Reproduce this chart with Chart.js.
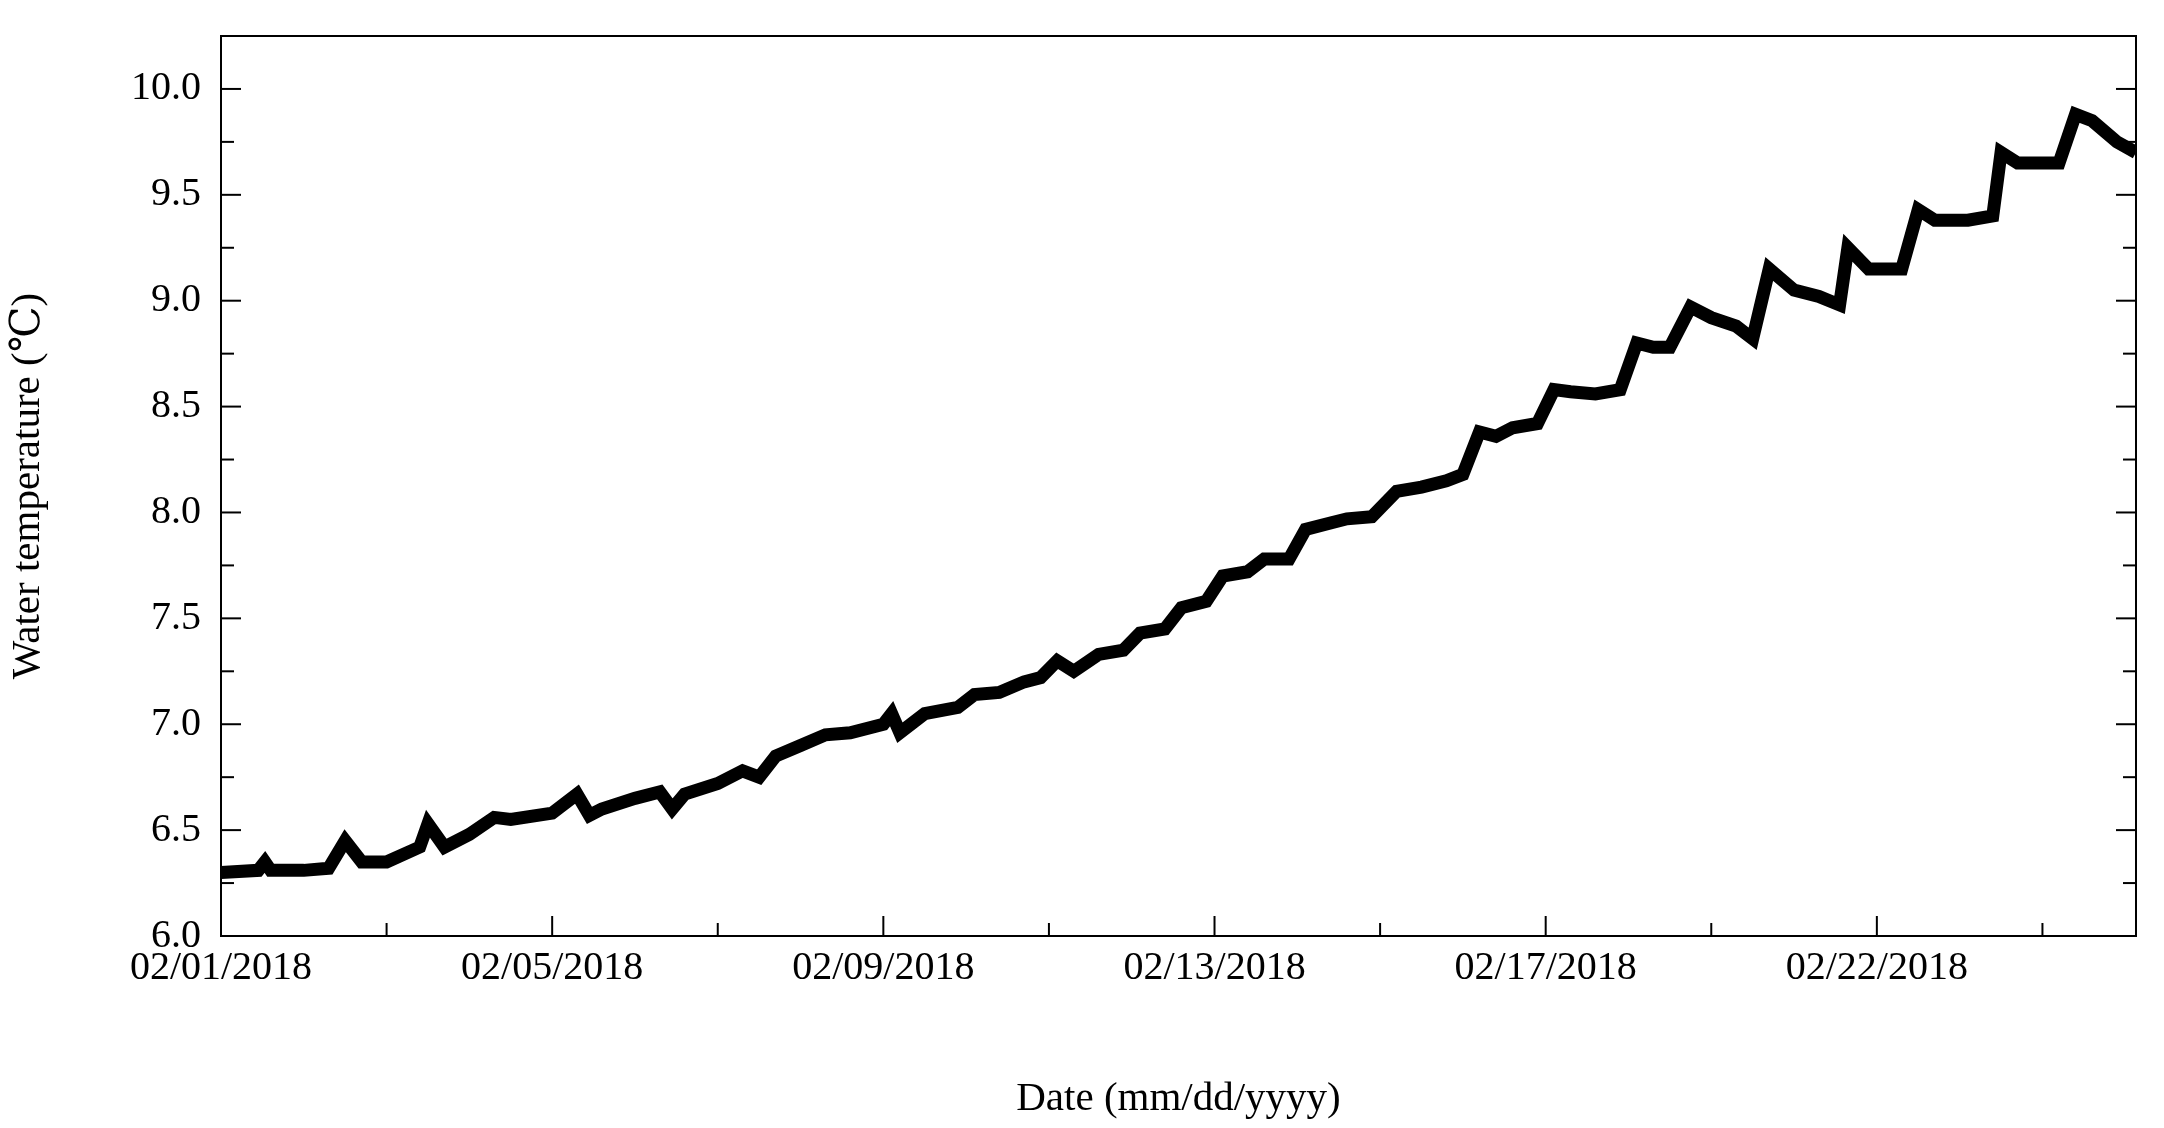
<!DOCTYPE html>
<html>
<head>
<meta charset="utf-8">
<script src="https://cdn.jsdelivr.net/npm/chart.js@4.4.0/dist/chart.umd.min.js"></script>
<style>
  html, body { margin: 0; padding: 0; background: #fff; }
  #wrap { width: 2164px; height: 1128px; }
</style>
</head>
<body>
<div id="wrap"><canvas id="tempChart"></canvas></div>
<script>
// days since 02/01/2018 and water temperature
const days = [0, 0.45, 0.53, 0.6, 1.0, 1.3, 1.5, 1.7, 2.0, 2.4, 2.5, 2.7, 3.0, 3.3, 3.5, 4.0, 4.3, 4.45, 4.6, 5.0,
  5.3, 5.45, 5.6, 6.0, 6.3, 6.5, 6.7, 7.0, 7.3, 7.6, 8.0, 8.1, 8.2, 8.5, 8.9, 9.1, 9.4, 9.7, 9.9, 10.1,
  10.3, 10.6, 10.9, 11.1, 11.4, 11.6, 11.9, 12.1, 12.4, 12.6, 12.9, 13.1, 13.4, 13.6, 13.9, 14.2, 14.5, 14.8, 15.0, 15.2,
  15.4, 15.6, 15.9, 16.1, 16.3, 16.6, 16.9, 17.1, 17.3, 17.5, 17.75, 18.0, 18.3, 18.5, 18.7, 19.0, 19.3, 19.55, 19.65, 19.9,
  20.3, 20.5, 20.7, 21.1, 21.4, 21.5, 21.7, 22.2, 22.4, 22.6, 22.9, 23.13];
const temps = [6.30, 6.31, 6.35, 6.31, 6.31, 6.32, 6.45, 6.35, 6.35, 6.42, 6.53, 6.42, 6.48, 6.56, 6.55, 6.58, 6.67, 6.57, 6.60, 6.65,
  6.68, 6.60, 6.67, 6.72, 6.78, 6.75, 6.85, 6.90, 6.95, 6.96, 7.00, 7.05, 6.96, 7.05, 7.08, 7.14, 7.15, 7.20, 7.22, 7.30,
  7.25, 7.33, 7.35, 7.43, 7.45, 7.55, 7.58, 7.70, 7.72, 7.78, 7.78, 7.92, 7.95, 7.97, 7.98, 8.10, 8.12, 8.15, 8.18, 8.38,
  8.36, 8.40, 8.42, 8.58, 8.57, 8.56, 8.58, 8.80, 8.78, 8.78, 8.97, 8.92, 8.88, 8.82, 9.15, 9.05, 9.02, 8.98, 9.25, 9.15,
  9.15, 9.43, 9.38, 9.38, 9.40, 9.70, 9.65, 9.65, 9.88, 9.85, 9.75, 9.70];
const xTickDays = [0, 4, 8, 12, 16, 20];
const xTickLabels = ["02/01/2018", "02/05/2018", "02/09/2018", "02/13/2018", "02/17/2018", "02/22/2018"];

const font = "'Liberation Serif', 'DejaVu Serif', serif";

// inward ticks and a full box around the plot
const frame = {
  id: "frame",
  afterDraw(chart) {
    const c = chart.ctx, a = chart.chartArea;
    c.save();
    c.strokeStyle = "#000";
    c.lineWidth = 2;
    chart.scales.x.ticks.forEach(t => {
      const px = chart.scales.x.getPixelForValue(t.value);
      const len = t.value % 4 === 0 ? 20 : 13;
      c.beginPath(); c.moveTo(px, a.bottom); c.lineTo(px, a.bottom - len); c.stroke();
    });
    chart.scales.y.ticks.forEach(t => {
      const py = chart.scales.y.getPixelForValue(t.value);
      const len = Math.abs(t.value * 2 - Math.round(t.value * 2)) < 1e-6 ? 20 : 13;
      c.beginPath(); c.moveTo(a.left, py); c.lineTo(a.left + len, py); c.stroke();
      c.beginPath(); c.moveTo(a.right, py); c.lineTo(a.right - len, py); c.stroke();
    });
    c.strokeRect(a.left, a.top, a.right - a.left, a.bottom - a.top);
    c.restore();
  }
};

new Chart(document.getElementById("tempChart"), {
  type: "line",
  data: {
    datasets: [{
      data: days.map((d, i) => ({ x: d, y: temps[i] })),
      borderColor: "#000",
      borderWidth: 13,
      pointRadius: 0,
      tension: 0,
      borderJoinStyle: "miter",
    }],
  },
  options: {
    animation: false,
    responsive: true,
    maintainAspectRatio: false,
    layout: { padding: { top: 33, right: 28, left: 0, bottom: 0 } },
    plugins: { legend: { display: false }, tooltip: { enabled: false } },
    scales: {
      x: {
        type: "linear",
        min: 0,
        max: 23.13,
        grid: { display: false },
        border: { display: false },
        afterBuildTicks: s => { s.ticks = []; for (let d = 0; d <= 22; d += 2) s.ticks.push({ value: d }); },
        afterFit: s => { s.height = 192; },
        ticks: {
          autoSkip: false,
          maxRotation: 0,
          color: "#000",
          font: { family: font, size: 40 },
          padding: 0,
          callback: v => { const i = xTickDays.indexOf(v); return i >= 0 ? xTickLabels[i] : ""; },
        },
        title: { display: true, text: "Date (mm/dd/yyyy)", color: "#000", font: { family: font, size: 41 }, padding: { top: 45 } },
      },
      y: {
        min: 6,
        max: 10.25,
        grid: { display: false },
        border: { display: false },
        afterBuildTicks: s => { s.ticks = []; for (let v = 6; v <= 10.001; v += 0.25) s.ticks.push({ value: Math.round(v * 100) / 100 }); },
        afterFit: s => { s.width = 221; },
        ticks: {
          autoSkip: false,
          color: "#000",
          font: { family: font, size: 40 },
          padding: 12,
          callback: v => Math.abs(v * 2 - Math.round(v * 2)) < 1e-6 ? v.toFixed(1) : "",
        },
        title: { display: true, text: "Water temperature (℃)", color: "#000", font: { family: font, size: 41 }, padding: { bottom: 8 } },
      },
    },
  },
  plugins: [frame],
});
</script>
</body>
</html>
